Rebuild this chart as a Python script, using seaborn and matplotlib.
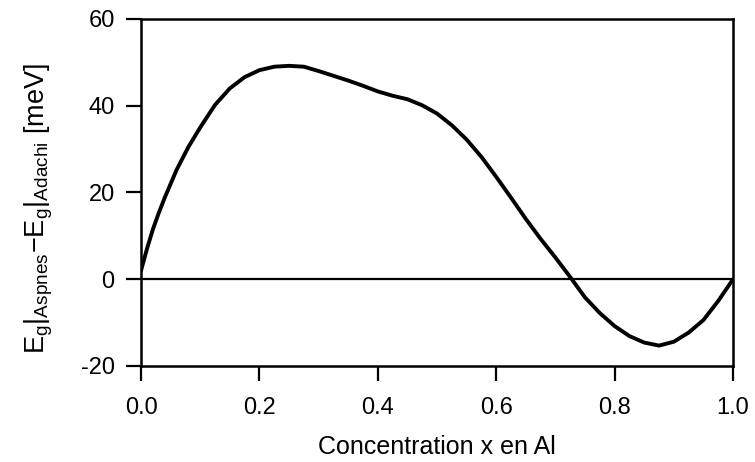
import matplotlib
matplotlib.use("Agg")
import matplotlib.pyplot as plt
import seaborn as sns
import pandas as pd

# Al concentration and band-gap difference (meV)
concentration = [0.0, 0.005, 0.01, 0.02, 0.03, 0.04, 0.06, 0.08, 0.10, 0.125,
                 0.15, 0.175, 0.2, 0.225, 0.25, 0.275, 0.3, 0.325, 0.35, 0.375,
                 0.4, 0.425, 0.45, 0.475, 0.5, 0.525, 0.55, 0.575, 0.6, 0.625,
                 0.65, 0.675, 0.7, 0.725, 0.75, 0.775, 0.8, 0.825, 0.85, 0.875,
                 0.9, 0.925, 0.95, 0.975, 1.0]
delta_eg = [2.0, 4.5, 7.0, 11.5, 15.3, 18.8, 25.2, 30.5, 35.0, 40.2,
            44.0, 46.6, 48.2, 49.0, 49.2, 49.0, 48.0, 46.9, 45.8, 44.6,
            43.3, 42.3, 41.5, 40.1, 38.2, 35.5, 32.2, 28.2, 23.6, 18.8,
            13.9, 9.3, 5.0, 0.5, -4.2, -7.8, -10.8, -13.1, -14.6, -15.3,
            -14.4, -12.3, -9.4, -5.0, 0.0]

x_ticks = [0.0, 0.2, 0.4, 0.6, 0.8, 1.0]
x_tick_labels = ["0.0", "0.2", "0.4", "0.6", "0.8", "1.0"]
y_ticks = [-20, 0, 20, 40, 60]
y_tick_labels = ["-20", "0", "20", "40", "60"]

sns.set_style("ticks")
plt.rcParams["font.family"] = ["Liberation Sans", "DejaVu Sans"]
plt.rcParams["mathtext.fontset"] = "custom"
plt.rcParams["mathtext.rm"] = "Liberation Sans"
plt.rcParams["mathtext.it"] = "Liberation Sans"
plt.rcParams["text.color"] = "black"
plt.rcParams["axes.labelcolor"] = "black"

df = pd.DataFrame({"x": concentration, "dE": delta_eg})

fig = plt.figure(figsize=(7.55, 4.62), dpi=100)
ax = fig.add_axes([0.1868, 0.2078, 0.7841, 0.7511])

ax.axhline(0, color="black", lw=1.6, zorder=1)
sns.lineplot(data=df, x="x", y="dE", ax=ax, color="black", lw=2.8, zorder=2)

ax.set_xlim(0, 1)
ax.set_ylim(-20, 60)
ax.set_xticks(x_ticks)
ax.set_xticklabels(x_tick_labels)
ax.set_yticks(y_ticks)
ax.set_yticklabels(y_tick_labels)

for s in ax.spines.values():
    s.set_linewidth(1.8)
    s.set_color("black")

ax.tick_params(axis="both", direction="out", length=11, width=1.6,
               labelsize=17, colors="black", labelcolor="black")
ax.tick_params(axis="x", pad=11)
ax.tick_params(axis="y", pad=8)

ax.set_xlabel("Concentration x en Al", fontsize=18, labelpad=12)
ax.set_ylabel(r"$\mathrm{E_g|_{Aspnes}{-}E_g|_{Adachi}}$ [meV]", fontsize=19.5)
ax.yaxis.set_label_coords(-0.145, 0.455)

fig.savefig("out.png", dpi=100, facecolor="white")
